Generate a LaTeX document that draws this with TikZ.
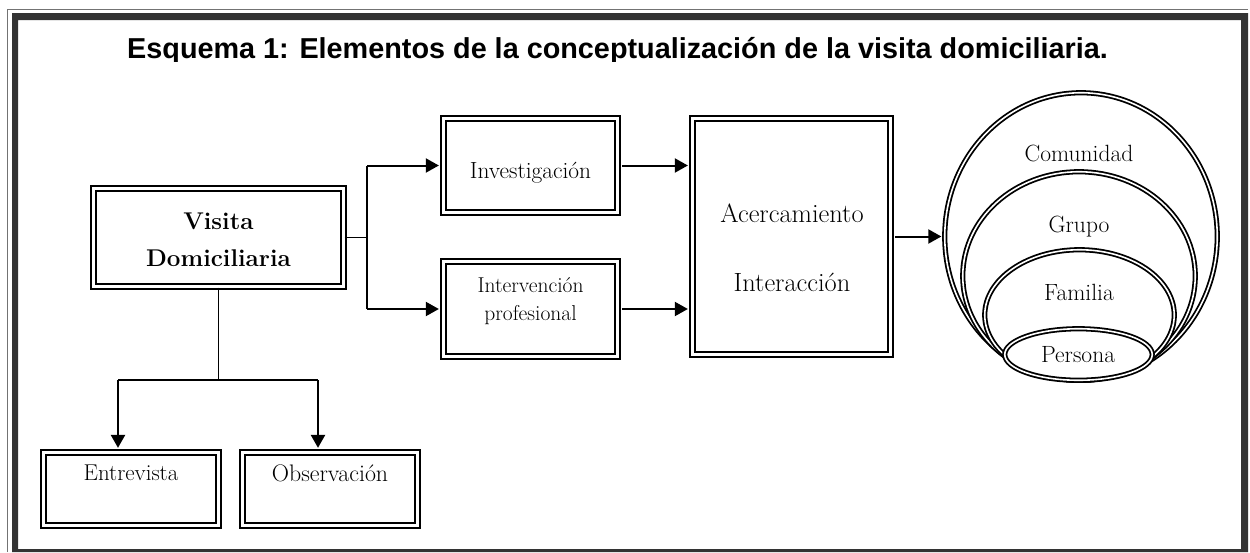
\documentclass[tikz,border=0pt]{standalone}
\usepackage{fontspec}
\newfontfamily\titlefont{Liberation Sans}
\usetikzlibrary{shapes.geometric,arrows.meta,calc}
\definecolor{framegray}{RGB}{51,51,51}
\begin{document}
\begin{tikzpicture}[x=1pt,y=-1pt,
  box/.style={draw=black, line width=2.3pt, double=white, double distance=2.4pt, inner sep=0pt, rectangle},
  oval/.style={ellipse, draw=black, line width=1.8pt, double=white, double distance=1.6pt, fill=white, inner sep=0pt},
  arr/.style={line width=2pt, -{Triangle[length=13pt,width=14pt]}},
  link/.style={line width=1.2pt},
  txt/.style={align=center, inner sep=0pt},
  fs/.style={font=\fontsize{#1}{#1}\selectfont}
]
\useasboundingbox (0,0) rectangle (1250,552);
% page frame
\fill[framegray, even odd rule] (12,13) rectangle (1248,552) (18,20) rectangle (1241,549);
\draw[black!55, line width=1.5pt] (7.5,552) -- (7.5,9.5) -- (1248,9.5);
% title
\begin{scope}
\clip (20,20) rectangle (1240,61);
\node[anchor=base, inner sep=0pt, font=\titlefont\bfseries\fontsize{28.8}{32}\selectfont] (title) at (617.5,58.5) {Esquema 1: Elementos de la conceptualización de la visita domiciliaria.};
\end{scope}
% boxes
\node[box, minimum width=250pt, minimum height=98pt] (vis) at (218.5,237.5) {};
\node[txt, font=\bfseries\fontsize{24.2}{37}\selectfont] (vistxt) at (218.5,239.5) {Visita\\Domiciliaria};
\node[box, minimum width=174pt, minimum height=94pt] (inv) at (530.5,165.5) {};
\node[txt, fs=23.4] (invtxt) at (530.5,173) {Investigación};
\node[box, minimum width=174pt, minimum height=95pt] (int) at (530.5,309) {};
\node[txt, font=\fontsize{21.5}{28}\selectfont] (inttxt) at (530.5,301) {Intervención\\profesional};
\node[box, minimum width=198pt, minimum height=236pt] (acer) at (791.5,236.5) {};
\node[txt, fs=26.4] (acer1) at (792,213) {Acercamiento};
\node[txt, fs=26.4] (acer2) at (792,282) {Interacción};
\node[box, minimum width=175pt, minimum height=73pt] (ent) at (131,489) {};
\node[txt, fs=22.9] (enttxt) at (131,473) {Entrevista};
\node[box, minimum width=175pt, minimum height=73pt] (obs) at (330,489) {};
\node[txt, fs=23.9] (obstxt) at (330,473) {Observación};
% nested ovals
\node[oval, minimum width=272.5pt, minimum height=287.5pt] (com) at (1081,236.5) {};
\node[oval, minimum width=232.5pt, minimum height=208.5pt] (gru) at (1079,276) {};
\node[oval, minimum width=189.5pt, minimum height=130.5pt] (fam) at (1079.5,315) {};
\node[oval, minimum width=147.5pt, minimum height=51.5pt] (per) at (1078.5,354.5) {};
\node[txt, fs=23.5] (comtxt) at (1079,153) {Comunidad};
\node[txt, fs=23.5] (grutxt) at (1079,227) {Grupo};
\node[txt, fs=23.5] (famtxt) at (1079,292) {Familia};
\node[txt, fs=23.5] (pertxt) at (1078,355) {Persona};
% connectors
\coordinate (vj) at (367,237.5);
\coordinate (vt) at (367,165.5);
\coordinate (vb) at (367,309);
\draw[link] (vis.east) -- (vj);
\draw[line width=2pt] (vt) -- (vb);
\draw[arr, shorten >=3.5pt] (vt) -- (inv.west);
\draw[arr, shorten >=3.5pt] (vb) -- (int.west);
\draw[arr, shorten <=3.5pt, shorten >=3.5pt] (inv.east) -- (inv.east -| acer.west);
\draw[arr, shorten <=3.5pt, shorten >=3.5pt] (int.east) -- (int.east -| acer.west);
\draw[arr, shorten <=3.5pt, shorten >=2.5pt] (acer.east) -- (com.west);
\coordinate (hb) at (218.5,380);
\coordinate (hl) at (118,380);
\coordinate (hr) at (318,380);
\draw[link] (vis.south) -- (hb);
\draw[line width=1.6pt] (hl) -- (hr);
\draw[arr, line width=2.4pt, shorten >=3.5pt] (hl) -- (hl |- ent.north);
\draw[arr, line width=2.4pt, shorten >=3.5pt] (hr) -- (hr |- obs.north);
\end{tikzpicture}
\end{document}
